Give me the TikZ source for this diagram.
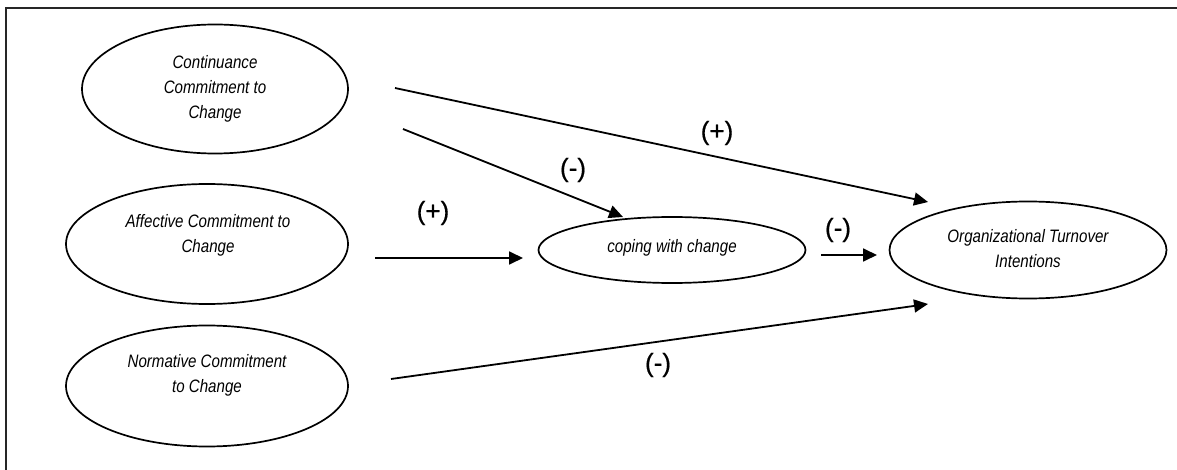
\documentclass[tikz,border=0pt]{standalone}
\usepackage{fontspec}
\setmainfont{Liberation Sans}
\newfontfamily\narrowsans[FakeStretch=0.84]{Liberation Sans}
\newfontfamily\signfont[FakeBold=0.6]{Liberation Sans}
\usetikzlibrary{arrows.meta,shapes.geometric}

\begin{document}
\begin{tikzpicture}[x=1pt,y=-1pt,
  construct/.style={draw, ellipse, line width=1.7pt, inner sep=0pt},
  caption/.style={align=center, inner sep=0pt,
    font=\narrowsans\itshape\fontsize{18}{25}\selectfont},
  path/.style={line width=1.8pt, -{Triangle[length=14pt,width=13pt]}},
  sign/.style={inner sep=0pt, font=\signfont\fontsize{26}{30}\selectfont}]
\useasboundingbox (0,0) rectangle (1177,470);

% outer frame (top and left edges only)
\draw[line width=2.5pt, black!85] (6,470) -- (6,8) -- (1177,8);

% constructs
\node[construct, minimum width=266pt, minimum height=129pt] (cont) at (215,89) {};
\node[construct, minimum width=282pt, minimum height=120pt] (aff)  at (207,244) {};
\node[construct, minimum width=282pt, minimum height=121pt] (norm) at (207,386) {};
\node[construct, minimum width=267pt, minimum height=66pt]  (cope) at (672,250) {};
\node[construct, minimum width=277pt, minimum height=97pt]  (org)  at (1028,250) {};

\node[caption] (contT) at (215,89)  {Continuance\\Commitment to\\Change};
\node[caption] (affT)  at (208,235) {Affective Commitment to\\Change};
\node[caption] (normT) at (207,375) {Normative Commitment\\to Change};
\node[caption] (copeT) at (672,248) {coping with change};
\node[caption] (orgT)  at (1028,249) {Organizational Turnover\\Intentions};

% free ends of the paths
\coordinate (p1s) at (395,88);  \coordinate (p1e) at (928,202);
\coordinate (p2s) at (403,129); \coordinate (p2e) at (623,217);
\coordinate (p3s) at (375,258); \coordinate (p3e) at (523,258);
\coordinate (p4s) at (821,255); \coordinate (p4e) at (877,255);
\coordinate (p5s) at (391,379); \coordinate (p5e) at (928,304);

\draw[path] (p1s) -- (p1e);
\draw[path] (p2s) -- (p2e);
\draw[path] (p3s) -- (p3e);
\draw[path] (p4s) -- (p4e);
\draw[path] (p5s) -- (p5e);

% signs of the effects
\node[sign] (s1) at (717,133) {(+)};
\node[sign] (s2) at (573,170) {(-)};
\node[sign] (s3) at (433,213) {(+)};
\node[sign] (s4) at (838,230) {(-)};
\node[sign] (s5) at (658,365) {(-)};
\end{tikzpicture}
\end{document}
